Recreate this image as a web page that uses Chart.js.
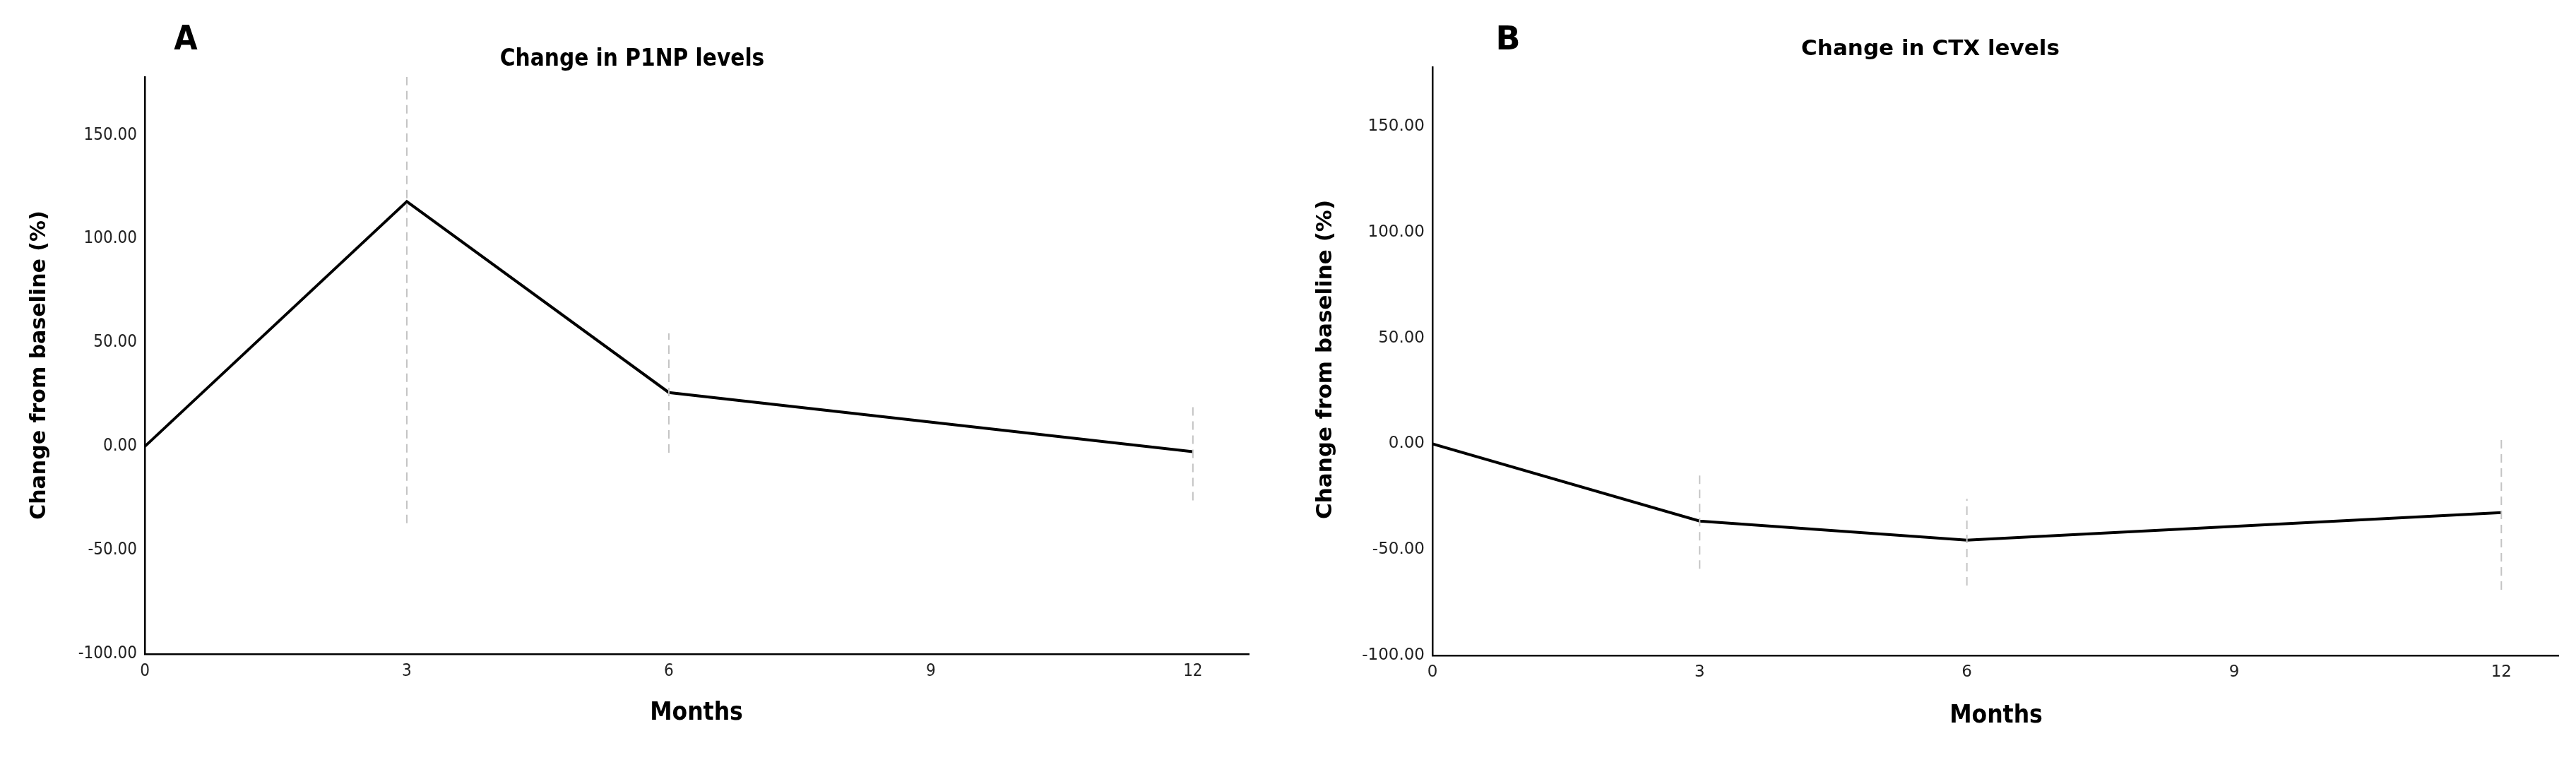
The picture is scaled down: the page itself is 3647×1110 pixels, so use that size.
<!DOCTYPE html>
<html>
<head>
<meta charset="utf-8">
<script src="https://cdn.jsdelivr.net/npm/chart.js@4/dist/chart.umd.min.js"></script>
<style>
  html, body { margin: 0; padding: 0; background: #fff; }
  body { width: 3647px; height: 1110px; position: relative; overflow: hidden; }
  canvas { position: absolute; top: 0; }
  #cA { left: 0; }
  #cB { left: 1820px; }
</style>
</head>
<body>
<canvas id="cA" width="1820" height="1110"></canvas>
<canvas id="cB" width="1827" height="1110"></canvas>
<script>
// ---- data ----
const months = [0, 3, 6, 12];
const xTickValues = [0, 3, 6, 9, 12];
const yTickValues = [-100, -50, 0, 50, 100, 150];

const p1npMean = [0, 118, 26, -2.5];
const p1npLow  = [null, -37, -3, -26];
const p1npHigh = [null, 190, 54.5, 19];

const ctxMean = [0, -36.5, -45.5, -32.5];
const ctxLow  = [null, -59, -67, -69];
const ctxHigh = [null, -14, -26, 4.5];

const panelLetters = ['A', 'B'];
const panelTitles = ['Change in P1NP levels', 'Change in CTX levels'];
const yTitle = 'Change from baseline (%)';
const xTitle = 'Months';

// ---- helpers ----
const textPlugin = {
  id: 'panelText',
  afterDraw(chart, args, opts) {
    const ctx = chart.ctx;
    (opts.items || []).forEach(it => {
      ctx.save();
      ctx.font = it.font;
      ctx.fillStyle = it.color || '#000';
      ctx.textAlign = 'center';
      ctx.textBaseline = 'middle';
      ctx.translate(it.x, it.y);
      if (it.rotate) ctx.rotate(it.rotate);
      ctx.fillText(it.text, 0, 0);
      ctx.restore();
    });
  }
};

function buildDatasets(mean, low, high) {
  const ds = [];
  months.forEach((m, i) => {
    if (low[i] === null) return;
    ds.push({
      data: [{x: m, y: low[i]}, {x: m, y: high[i]}],
      borderColor: '#c4c4c4',
      borderWidth: 2,
      borderDash: [12, 8],
      pointRadius: 0,
      fill: false,
      tension: 0
    });
  });
  ds.push({
    data: months.map((m, i) => ({x: m, y: mean[i]})),
    borderColor: '#000',
    borderWidth: 4,
    pointRadius: 0,
    fill: false,
    tension: 0
  });
  return ds;
}

function makeChart(id, cfg) {
  return new Chart(document.getElementById(id), {
    type: 'line',
    data: { datasets: buildDatasets(cfg.mean, cfg.low, cfg.high) },
    plugins: [textPlugin],
    options: {
      responsive: false,
      animation: false,
      devicePixelRatio: 1,
      layout: { padding: cfg.padding },
      plugins: {
        legend: { display: false },
        tooltip: { enabled: false },
        panelText: { items: cfg.items }
      },
      scales: {
        x: {
          type: 'linear',
          min: 0,
          max: 12.64,
          afterBuildTicks: s => { s.ticks = xTickValues.map(v => ({value: v})); },
          afterFit: s => { s.height = cfg.xHeight; },
          grid: { display: false, drawTicks: false },
          border: { display: true, color: '#000', width: 2.5 },
          ticks: {
            padding: 10,
            color: '#222',
            font: { family: cfg.tickFamily, size: cfg.tickSize },
            maxRotation: 0,
            callback: v => String(v)
          }
        },
        y: {
          type: 'linear',
          min: -100,
          max: 178,
          afterBuildTicks: s => { s.ticks = yTickValues.map(v => ({value: v})); },
          afterFit: s => { s.width = 120; },
          grid: { display: false, drawTicks: false },
          border: { display: true, color: '#000', width: 2.5 },
          ticks: {
            padding: 11,
            color: '#222',
            font: { family: cfg.tickFamily, size: cfg.tickSize },
            callback: v => Number(v).toFixed(2)
          }
        }
      }
    }
  });
}

makeChart('cA', {
  mean: p1npMean, low: p1npLow, high: p1npHigh,
  padding: { left: 85, right: 52, top: 109, bottom: 0 },
  xHeight: 184,
  tickFamily: '"DejaVu Sans Condensed", "DejaVu Sans", sans-serif',
  tickSize: 24,
  items: [
    { text: panelLetters[0], x: 263, y: 58, font: 'bold 48px "DejaVu Sans Condensed", "DejaVu Sans"' },
    { text: panelTitles[0], x: 895, y: 84, font: 'bold 33px "DejaVu Sans Condensed", "DejaVu Sans"' },
    { text: yTitle, x: 56, y: 517, rotate: -Math.PI / 2, font: 'bold 30px "DejaVu Sans"' },
    { text: xTitle, x: 986, y: 1010, font: 'bold 35px "DejaVu Sans Condensed", "DejaVu Sans"' }
  ]
});

makeChart('cB', {
  mean: ctxMean, low: ctxLow, high: ctxHigh,
  padding: { left: 88, right: 25, top: 95, bottom: 0 },
  xHeight: 182,
  tickFamily: '"DejaVu Sans", sans-serif',
  tickSize: 23,
  items: [
    { text: panelLetters[1], x: 315, y: 58, font: 'bold 46px "DejaVu Sans"' },
    { text: panelTitles[1], x: 913, y: 70, font: 'bold 31px "DejaVu Sans"' },
    { text: yTitle, x: 57, y: 509, rotate: -Math.PI / 2, font: 'bold 31px "DejaVu Sans"' },
    { text: xTitle, x: 1006, y: 1014, font: 'bold 35px "DejaVu Sans Condensed", "DejaVu Sans"' }
  ]
});
</script>
</body>
</html>
